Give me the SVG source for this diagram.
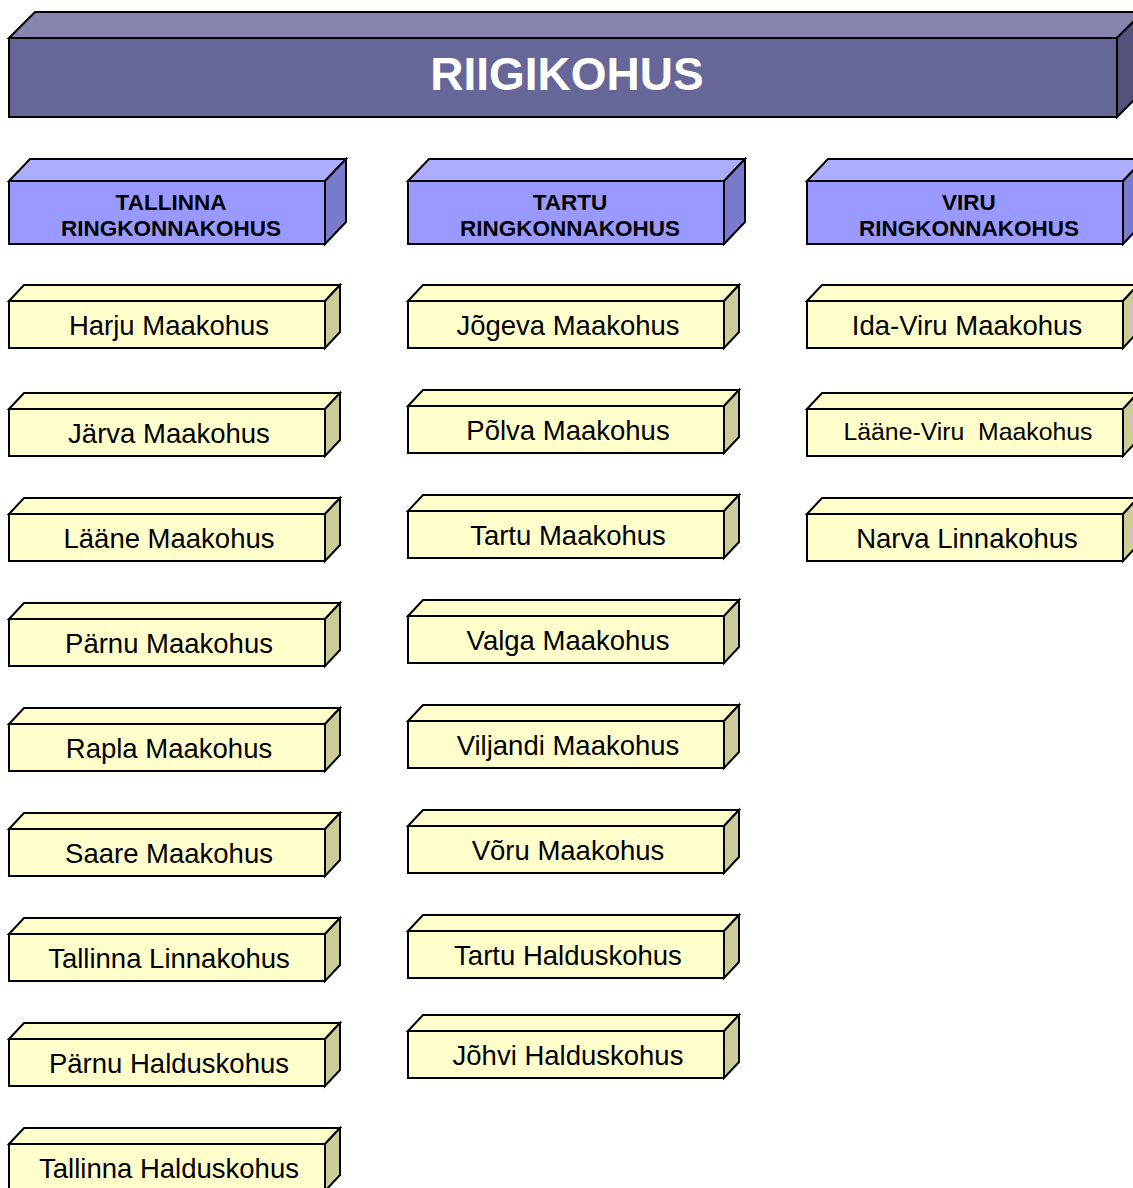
<svg xmlns="http://www.w3.org/2000/svg" width="1133" height="1188" viewBox="0 0 1133 1188">
<style>
.s{stroke:#000;stroke-width:2;stroke-linejoin:miter}
.tf{fill:#666699}.tt{fill:#8585AD}.tr{fill:#52527A}
.rf{fill:#9999FF}.rt{fill:#ADADFF}.rr{fill:#7A7ACC}
.yf{fill:#FFFFCC}.yt{fill:#FFFFCC}.yr{fill:#CCCC99}
.title{font-family:"Liberation Sans",Arial,sans-serif;font-weight:bold;font-size:46px;fill:#fff;text-anchor:middle}
.rl{font-family:"Liberation Sans",Arial,sans-serif;font-weight:bold;font-size:22.5px;fill:#000;text-anchor:middle}
.yl{font-family:"Liberation Sans",Arial,sans-serif;font-size:27.5px;fill:#000;text-anchor:middle}
.ys{font-family:"Liberation Sans",Arial,sans-serif;font-size:24.8px;fill:#000;text-anchor:middle}
</style>
<defs>
<g id="ybox">
<polygon class="s yt" points="0,0 15,-16 331,-16 316,0"/>
<rect class="s yf" x="0" y="0" width="316" height="47"/>
<polygon class="s yr" points="316,0 331,-16 331,31 316,47"/>
</g>
<g id="rbox">
<polygon class="s rt" points="0,0 21,-22 337,-22 316,0"/>
<rect class="s rf" x="0" y="0" width="316" height="63"/>
<polygon class="s rr" points="316,0 337,-22 337,41 316,63"/>
</g>
</defs>
<rect width="1133" height="1188" fill="#fff"/>
<g id="riigikohus">
<polygon class="s tt" points="9,38 35,12 1143,12 1117,38"/>
<rect class="s tf" x="9" y="38" width="1108" height="79"/>
<polygon class="s tr" points="1117,38 1143,12 1143,91 1117,117"/>
<text class="title" x="567" y="90">RIIGIKOHUS</text>
</g>
<g id="tallinna-ring">
<use href="#rbox" x="9" y="181"/>
<text class="rl" x="171" y="210">TALLINNA</text>
<text class="rl" x="171" y="236">RINGKONNAKOHUS</text>
</g>
<g id="tartu-ring">
<use href="#rbox" x="408" y="181"/>
<text class="rl" x="570" y="210">TARTU</text>
<text class="rl" x="570" y="236">RINGKONNAKOHUS</text>
</g>
<g id="viru-ring">
<use href="#rbox" x="807" y="181"/>
<text class="rl" x="969" y="210">VIRU</text>
<text class="rl" x="969" y="236">RINGKONNAKOHUS</text>
</g>
<g id="harju"><use href="#ybox" x="9" y="301"/><text class="yl" x="169" y="335">Harju Maakohus</text></g>
<g id="jarva"><use href="#ybox" x="9" y="409"/><text class="yl" x="169" y="443">Järva Maakohus</text></g>
<g id="laane"><use href="#ybox" x="9" y="514"/><text class="yl" x="169" y="548">Lääne Maakohus</text></g>
<g id="parnu"><use href="#ybox" x="9" y="619"/><text class="yl" x="169" y="653">Pärnu Maakohus</text></g>
<g id="rapla"><use href="#ybox" x="9" y="724"/><text class="yl" x="169" y="758">Rapla Maakohus</text></g>
<g id="saare"><use href="#ybox" x="9" y="829"/><text class="yl" x="169" y="863">Saare Maakohus</text></g>
<g id="tallinna-linna"><use href="#ybox" x="9" y="934"/><text class="yl" x="169" y="968">Tallinna Linnakohus</text></g>
<g id="parnu-haldus"><use href="#ybox" x="9" y="1039"/><text class="yl" x="169" y="1073">Pärnu Halduskohus</text></g>
<g id="tallinna-haldus"><use href="#ybox" x="9" y="1144"/><text class="yl" x="169" y="1178">Tallinna Halduskohus</text></g>
<g id="jogeva"><use href="#ybox" x="408" y="301"/><text class="yl" x="568" y="335">Jõgeva Maakohus</text></g>
<g id="polva"><use href="#ybox" x="408" y="406"/><text class="yl" x="568" y="440">Põlva Maakohus</text></g>
<g id="tartu"><use href="#ybox" x="408" y="511"/><text class="yl" x="568" y="545">Tartu Maakohus</text></g>
<g id="valga"><use href="#ybox" x="408" y="616"/><text class="yl" x="568" y="650">Valga Maakohus</text></g>
<g id="viljandi"><use href="#ybox" x="408" y="721"/><text class="yl" x="568" y="755">Viljandi Maakohus</text></g>
<g id="voru"><use href="#ybox" x="408" y="826"/><text class="yl" x="568" y="860">Võru Maakohus</text></g>
<g id="tartu-haldus"><use href="#ybox" x="408" y="931"/><text class="yl" x="568" y="965">Tartu Halduskohus</text></g>
<g id="johvi-haldus"><use href="#ybox" x="408" y="1031"/><text class="yl" x="568" y="1065">Jõhvi Halduskohus</text></g>
<g id="ida-viru"><use href="#ybox" x="807" y="301"/><text class="yl" x="967" y="335">Ida-Viru Maakohus</text></g>
<g id="laane-viru"><use href="#ybox" x="807" y="409"/><text class="ys" x="968" y="440" xml:space="preserve">Lääne-Viru  Maakohus</text></g>
<g id="narva"><use href="#ybox" x="807" y="514"/><text class="yl" x="967" y="548">Narva Linnakohus</text></g>
<g id="connectors"></g>
</svg>
